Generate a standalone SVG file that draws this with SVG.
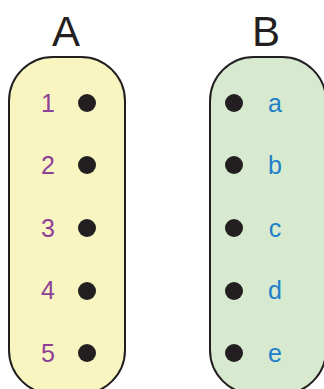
<svg xmlns="http://www.w3.org/2000/svg" width="324" height="389" viewBox="0 0 324 389">
<style>
.box{stroke:#231f20;stroke-width:2}
.dot{fill:#231f20}
.title{font-family:"Liberation Sans",Arial,sans-serif;font-size:42px;fill:#231f20;text-anchor:middle}
.num{font-family:"Liberation Sans",Arial,sans-serif;font-size:25px;fill:#8e3f98;text-anchor:middle}
.let{font-family:"Liberation Sans",Arial,sans-serif;font-size:25px;fill:#1f7fc9;text-anchor:middle}
</style>
<g id="A">
<rect class="box" x="9" y="57" width="116" height="337" rx="44" ry="44" fill="#f8f5c1"/>
<text class="title" x="66" y="46">A</text>
<text class="num" x="48" y="112">1</text><circle class="dot" cx="87" cy="103" r="9"/>
<text class="num" x="48" y="174">2</text><circle class="dot" cx="87" cy="165" r="9"/>
<text class="num" x="48" y="237">3</text><circle class="dot" cx="87" cy="228" r="9"/>
<text class="num" x="48" y="299">4</text><circle class="dot" cx="87" cy="291" r="9"/>
<text class="num" x="48" y="362">5</text><circle class="dot" cx="87" cy="353" r="9"/>
</g>
<g id="B">
<rect class="box" x="210" y="57" width="116" height="337" rx="44" ry="44" fill="#d7e9cf"/>
<text class="title" x="266" y="46">B</text>
<circle class="dot" cx="234" cy="103" r="9"/><text class="let" x="275" y="112">a</text>
<circle class="dot" cx="234" cy="165" r="9"/><text class="let" x="275" y="174">b</text>
<circle class="dot" cx="234" cy="228" r="9"/><text class="let" x="275" y="237">c</text>
<circle class="dot" cx="234" cy="291" r="9"/><text class="let" x="275" y="299">d</text>
<circle class="dot" cx="234" cy="353" r="9"/><text class="let" x="275" y="362">e</text>
</g>
<g id="connectors"></g>
</svg>
